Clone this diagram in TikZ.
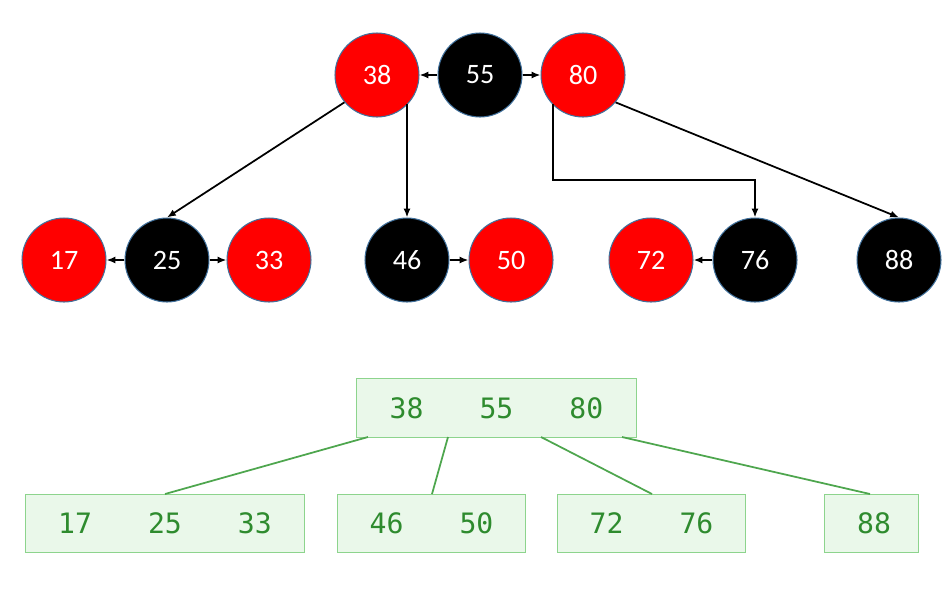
\documentclass[tikz,border=0pt]{standalone}
\usepackage{fontspec}
\setmainfont{Carlito}
\newfontfamily\monof{DejaVu Sans Mono}
\usetikzlibrary{arrows.meta}
\definecolor{rbred}{HTML}{FF0000}
\definecolor{rim}{HTML}{41719C}
\definecolor{bfill}{HTML}{EAF8EA}
\definecolor{bline}{HTML}{8DD48D}
\definecolor{btext}{HTML}{2E8B2E}
\definecolor{bedge}{HTML}{4EA64E}
\newcommand{\bgap}{\hspace{1.12cm}}
\begin{document}
\begin{tikzpicture}[x=0.02cm,y=-0.02cm,
  rb/.style={circle,draw=rim,line width=0.6pt,minimum size=1.68cm,inner sep=0pt,text=white,font=\fontsize{16}{18}\selectfont},
  red/.style={rb,fill=rbred},
  blk/.style={rb,fill=black},
  arr/.style={-{Latex[length=5pt,width=4pt]},line width=1pt},
  bx/.style={draw=bline,fill=bfill,line width=0.8pt,text=btext,font=\monof\fontsize{16}{18}\selectfont,anchor=north west,inner sep=0pt,align=left,text width=#1,minimum height=1.16cm},
  bl/.style={draw=bedge,line width=1pt}]
\useasboundingbox (0,0) rectangle (949,606);
\node[red] (n38) at (377,75) {38};
\node[blk] (n55) at (480,75) {55};
\node[red] (n80) at (583,75) {80};
\node[red] (n17) at (64,260) {17};
\node[blk] (n25) at (167,260) {25};
\node[red] (n33) at (269,260) {33};
\node[blk] (n46) at (407,260) {46};
\node[red] (n50) at (511,260) {50};
\node[red] (n72) at (651,260) {72};
\node[blk] (n76) at (755,260) {76};
\node[blk] (n88) at (899,260) {88};
\draw[arr] (n55) -- (n38);
\draw[arr] (n55) -- (n80);
\draw[arr] (n25) -- (n17);
\draw[arr] (n25) -- (n33);
\draw[arr] (n46) -- (n50);
\draw[arr] (n76) -- (n72);
\draw[arr] (n38.-140) -- (n25.north);
\coordinate (s38) at (407,104);
\draw[arr] (s38) -- (n46.north);
\coordinate (s80) at (553,104);
\coordinate (e1) at (553,180);
\coordinate (e2) at (755,180);
\draw[arr] (s80) -- (e1) -- (e2) -- (n76.north);
\draw[arr] (n80.-40) -- (n88.north);
% B-tree
\node[bx=5.4cm,minimum width=5.6cm,minimum height=1.18cm] (b0) at (356,378) {\hspace*{0.56cm}38\bgap55\bgap80};
\node[bx=5.4cm,minimum width=5.58cm] (b1) at (25,494) {\hspace*{0.56cm}17\bgap25\bgap33};
\node[bx=3.6cm,minimum width=3.76cm] (b2) at (337,494) {\hspace*{0.56cm}46\bgap50};
\node[bx=3.6cm,minimum width=3.76cm] (b3) at (557,494) {\hspace*{0.56cm}72\bgap76};
\node[bx=1.7cm,minimum width=1.88cm] (b4) at (824,494) {\hspace*{0.56cm}88};
\coordinate (p1) at (368,437); \coordinate (c1) at (165,494);
\coordinate (p2) at (448,437); \coordinate (c2) at (432,494);
\coordinate (p3) at (541,437); \coordinate (c3) at (652,494);
\coordinate (p4) at (622,437); \coordinate (c4) at (870,494);
\draw[bl] (p1) -- (c1);
\draw[bl] (p2) -- (c2);
\draw[bl] (p3) -- (c3);
\draw[bl] (p4) -- (c4);
\end{tikzpicture}
\end{document}
